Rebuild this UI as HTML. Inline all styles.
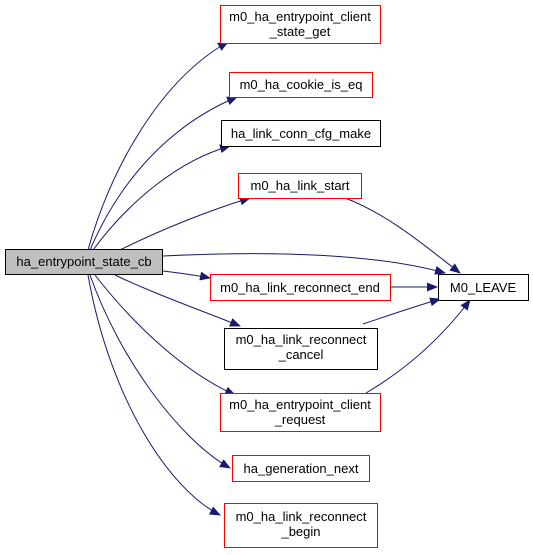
<!DOCTYPE html>
<html><head><style>body{margin:0;background:#fff}svg{display:block}</style></head><body>
<svg width="533" height="555" viewBox="0 0 533 555" xmlns="http://www.w3.org/2000/svg" font-family="Liberation Sans, sans-serif" font-size="13">
<defs><marker id="a" markerWidth="11" markerHeight="9" refX="10" refY="4.5" orient="auto" markerUnits="userSpaceOnUse"><path d="M0,0 L11,4.5 L0,9 z" fill="#191970"/></marker></defs>
<g fill="none" stroke="#191970" stroke-width="1" marker-end="url(#a)">
<path d="M88,250 C110,170 160,80 228,42"/>
<path d="M90,250 C120,180 170,125 237,97"/>
<path d="M93,250 C130,200 180,160 230,146"/>
<path d="M120,250 C160,230 210,210 250,198"/>
<path d="M163,256 C280,250 380,255 445,273"/>
<path d="M163,271 C180,273 195,275 210,278"/>
<path d="M115,275 C150,292 200,310 240,326"/>
<path d="M95,275 C130,320 180,370 235,395"/>
<path d="M90,275 C120,360 180,440 230,468"/>
<path d="M88,275 C110,400 170,490 220,515"/>
<path d="M345,198 C390,215 430,250 460,273"/>
<path d="M390,287 L437,287"/>
<path d="M363,324 C390,315 410,308 440,299"/>
<path d="M366,393 C405,370 440,340 470,300"/>
</g>
<g stroke-width="1">
<rect x="5.5" y="249.5" width="157" height="25" fill="#bfbfbf" stroke="#000"/>
<rect x="220.5" y="5.5" width="160" height="38" fill="#fff" stroke="red"/>
<rect x="229.5" y="72.5" width="143" height="25" fill="#fff" stroke="red"/>
<rect x="221.5" y="120.5" width="159" height="26" fill="#fff" stroke="#000"/>
<rect x="238.5" y="173.5" width="123" height="25" fill="#fff" stroke="red"/>
<rect x="210.5" y="274.5" width="180" height="26" fill="#fff" stroke="red"/>
<rect x="224.5" y="328.5" width="153" height="41" fill="#fff" stroke="#000"/>
<rect x="220.5" y="393.5" width="160" height="38" fill="#fff" stroke="red"/>
<rect x="232.5" y="455.5" width="137" height="26" fill="#fff" stroke="red"/>
<rect x="224.5" y="503.5" width="153" height="44" fill="#fff" stroke="red"/>
<rect x="438.5" y="274.5" width="90" height="26" fill="#fff" stroke="#000"/>
</g>
<g text-anchor="middle" fill="#000">
<text x="84" y="266">ha_entrypoint_state_cb</text>
<text x="300" y="21">m0_ha_entrypoint_client</text><text x="300" y="36">_state_get</text>
<text x="301" y="89">m0_ha_cookie_is_eq</text>
<text x="301" y="138">ha_link_conn_cfg_make</text>
<text x="300" y="190">m0_ha_link_start</text>
<text x="300" y="292">m0_ha_link_reconnect_end</text>
<text x="301" y="344">m0_ha_link_reconnect</text><text x="301" y="359">_cancel</text>
<text x="300" y="409">m0_ha_entrypoint_client</text><text x="300" y="424">_request</text>
<text x="301" y="473">ha_generation_next</text>
<text x="301" y="521">m0_ha_link_reconnect</text><text x="301" y="536">_begin</text>
<text x="483" y="292">M0_LEAVE</text>
</g>
</svg>
</body></html>
